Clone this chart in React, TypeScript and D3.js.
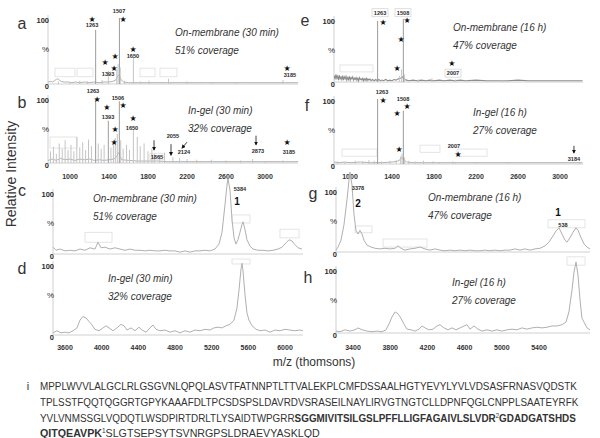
import React, { useLayoutEffect, useRef } from "react";
import * as d3 from "d3";

type Pt = [number, number];
type Lbl = [number, number, string];
type Arr = [number, number, number, number];
type Box = [number, number, number, number];

// ---- stick spectra, m/z vs % intensity ----
const peaksA: Pt[] = [[880, 4], [1000, 3], [1100, 5], [1180, 4], [1263, 82], [1330, 6], [1393, 20], [1480, 22], [1493, 30], [1507, 100], [1515, 25], [1560, 5], [1650, 42], [1720, 4], [1810, 5], [2010, 8], [2200, 4], [2450, 3], [2700, 3], [3185, 6]];
const noiseA: Pt[] = [[775, 3], [800, 4], [820, 3], [840, 5], [860, 7], [875, 8], [890, 6], [910, 4], [940, 3], [980, 3], [1020, 2], [1060, 3], [1100, 2], [1150, 3], [1200, 2], [1250, 3], [1300, 2], [1350, 3], [1400, 3], [1440, 4], [1470, 6], [1490, 12], [1500, 14], [1510, 12], [1525, 6], [1550, 3], [1600, 2], [1700, 2], [1800, 2], [1900, 2], [2000, 2], [2100, 2], [2200, 2], [2400, 2], [2600, 2], [2800, 2], [3000, 2], [3200, 2], [3340, 2]];

const peaksB: Pt[] = [[800, 18], [830, 25], [860, 14], [890, 30], [920, 22], [950, 35], [980, 20], [1010, 28], [1040, 18], [1070, 40], [1100, 24], [1130, 32], [1160, 20], [1190, 36], [1220, 26], [1263, 98], [1290, 30], [1320, 22], [1350, 28], [1393, 65], [1420, 24], [1445, 30], [1465, 38], [1485, 45], [1506, 95], [1520, 35], [1545, 22], [1580, 28], [1610, 20], [1650, 52], [1690, 40], [1720, 26], [1760, 30], [1800, 18], [1840, 22], [1865, 14], [1920, 12], [1970, 16], [2055, 9], [2124, 8], [2200, 6], [2300, 5], [2450, 5], [2600, 4], [2750, 4], [2873, 6], [3000, 3], [3185, 4]];
const noiseB: Pt[] = [[775, 4], [820, 6], [860, 4], [900, 7], [950, 5], [1000, 6], [1050, 4], [1100, 6], [1150, 5], [1200, 6], [1250, 4], [1300, 5], [1350, 4], [1400, 5], [1450, 6], [1480, 10], [1495, 16], [1506, 14], [1515, 10], [1530, 5], [1600, 4], [1700, 3], [1800, 3], [1900, 3], [2000, 2], [2200, 2], [2400, 2], [2600, 2], [2800, 2], [3000, 2], [3200, 2], [3340, 2]];

const peaksE: Pt[] = [[1263, 97], [1470, 10], [1490, 20], [1508, 100], [1520, 12], [1650, 4], [1780, 6], [2007, 4], [2450, 3]];
const noiseE: Pt[] = [[850, 10], [858, 4], [866, 12], [874, 6], [882, 9], [890, 3], [898, 11], [906, 5], [914, 8], [922, 4], [930, 10], [938, 3], [946, 8], [954, 5], [962, 9], [970, 3], [978, 7], [986, 4], [994, 9], [1002, 3], [1010, 7], [1018, 5], [1026, 8], [1034, 3], [1042, 6], [1050, 4], [1058, 7], [1066, 3], [1074, 6], [1082, 2], [1090, 7], [1098, 4], [1106, 5], [1114, 3], [1122, 6], [1130, 2], [1138, 5], [1146, 3], [1154, 6], [1162, 2], [1170, 5], [1180, 3], [1190, 5], [1200, 2], [1215, 4], [1230, 2], [1245, 4], [1260, 2], [1275, 4], [1290, 2], [1305, 3], [1320, 2], [1340, 4], [1360, 2], [1380, 3], [1400, 2], [1420, 4], [1440, 3], [1460, 5], [1480, 6], [1500, 8], [1520, 4], [1540, 3], [1560, 2], [1600, 3], [1640, 2], [1680, 3], [1720, 2], [1760, 3], [1800, 2], [1850, 3], [1900, 2], [1950, 3], [2000, 2], [2050, 3], [2100, 2], [2200, 3], [2300, 2], [2400, 2], [2500, 2], [2600, 3], [2700, 2], [2800, 2], [2900, 2], [3000, 2], [3100, 2], [3215, 2]];

const peaksF: Pt[] = [[880, 4], [950, 3], [1050, 5], [1120, 4], [1180, 6], [1230, 5], [1263, 100], [1300, 4], [1380, 5], [1440, 6], [1480, 12], [1495, 16], [1508, 82], [1520, 10], [1560, 5], [1620, 4], [1700, 5], [1790, 4], [1850, 3], [1980, 4], [2007, 3], [2200, 2], [2500, 2], [3184, 2]];
const noiseF: Pt[] = [[848, 3], [900, 2], [950, 3], [1000, 2], [1100, 3], [1200, 2], [1300, 2], [1400, 3], [1450, 4], [1480, 7], [1500, 10], [1515, 6], [1540, 3], [1600, 2], [1800, 2], [2000, 2], [2400, 2], [2800, 2], [3215, 2]];

// ---- profile spectra ----
const profileC: Pt[] = [[3469, 11], [3502, 6], [3545, 8], [3600, 5], [3655, 6], [3709, 5], [3764, 8], [3818, 6], [3873, 10], [3927, 8], [3960, 19], [3993, 10], [4036, 11], [4091, 8], [4145, 10], [4200, 8], [4255, 6], [4309, 8], [4364, 6], [4418, 6], [4473, 5], [4527, 6], [4582, 5], [4636, 5], [4691, 6], [4745, 5], [4800, 5], [4855, 3], [4909, 5], [4964, 3], [5018, 5], [5073, 5], [5127, 6], [5182, 5], [5236, 8], [5280, 16], [5313, 35], [5345, 79], [5367, 111], [5378, 122], [5400, 103], [5422, 55], [5444, 26], [5465, 16], [5487, 23], [5509, 35], [5531, 48], [5542, 52], [5564, 39], [5585, 23], [5618, 13], [5651, 8], [5705, 6], [5760, 6], [5815, 5], [5869, 6], [5924, 8], [5967, 11], [6011, 18], [6044, 23], [6076, 21], [6109, 15], [6142, 10], [6185, 8]];
const profileD: Pt[] = [[3469, 3], [3513, 6], [3556, 3], [3600, 4], [3644, 3], [3687, 6], [3731, 10], [3764, 21], [3796, 26], [3829, 24], [3862, 19], [3895, 14], [3927, 8], [3971, 6], [4015, 10], [4047, 13], [4080, 10], [4124, 6], [4167, 10], [4211, 15], [4244, 13], [4276, 7], [4320, 10], [4364, 6], [4407, 11], [4440, 7], [4484, 4], [4527, 10], [4560, 14], [4593, 8], [4636, 6], [4691, 7], [4745, 4], [4800, 6], [4855, 3], [4909, 6], [4964, 4], [5018, 7], [5073, 6], [5127, 8], [5182, 7], [5225, 10], [5269, 11], [5313, 10], [5356, 13], [5400, 15], [5444, 21], [5476, 38], [5498, 63], [5520, 93], [5531, 101], [5542, 90], [5564, 56], [5585, 31], [5607, 21], [5640, 13], [5684, 8], [5727, 6], [5782, 7], [5836, 4], [5891, 7], [5945, 6], [6000, 8], [6055, 7], [6109, 6], [6164, 7], [6196, 6]];
const profileG: Pt[] = [[3217, 3], [3239, 8], [3271, 19], [3303, 44], [3335, 84], [3357, 116], [3368, 129], [3389, 108], [3411, 60], [3432, 35], [3454, 29], [3475, 35], [3497, 29], [3518, 19], [3551, 11], [3594, 8], [3637, 6], [3690, 5], [3744, 6], [3798, 5], [3852, 6], [3884, 10], [3916, 6], [3959, 3], [4013, 5], [4067, 6], [4120, 8], [4174, 5], [4228, 3], [4282, 5], [4335, 3], [4389, 2], [4443, 3], [4497, 2], [4551, 3], [4604, 2], [4658, 3], [4712, 2], [4766, 2], [4819, 3], [4873, 2], [4927, 3], [4981, 2], [5034, 3], [5088, 3], [5142, 5], [5196, 3], [5249, 5], [5303, 3], [5357, 5], [5411, 6], [5465, 10], [5508, 16], [5551, 26], [5583, 34], [5615, 39], [5647, 29], [5680, 19], [5701, 16], [5733, 23], [5766, 32], [5798, 39], [5820, 35], [5852, 23], [5884, 13], [5916, 8], [5948, 5]];
const profileH: Pt[] = [[3217, 3], [3260, 2], [3314, 5], [3368, 3], [3422, 5], [3454, 8], [3497, 5], [3551, 3], [3604, 2], [3658, 3], [3712, 2], [3755, 5], [3787, 14], [3819, 25], [3852, 33], [3884, 30], [3916, 23], [3948, 14], [3981, 6], [4024, 5], [4067, 3], [4110, 6], [4142, 11], [4174, 8], [4217, 5], [4260, 6], [4303, 11], [4335, 13], [4378, 8], [4422, 5], [4465, 8], [4508, 5], [4551, 8], [4594, 11], [4626, 13], [4658, 6], [4701, 11], [4744, 6], [4787, 3], [4841, 5], [4895, 3], [4948, 5], [5002, 3], [5056, 5], [5110, 6], [5163, 5], [5217, 8], [5271, 6], [5325, 8], [5378, 9], [5432, 8], [5486, 9], [5540, 11], [5594, 11], [5647, 13], [5690, 17], [5722, 33], [5755, 67], [5776, 95], [5798, 111], [5819, 91], [5841, 52], [5862, 23], [5884, 17], [5916, 8], [5948, 5]];

// ---- axis ticks ----
const ticksLow = [1000, 1400, 1800, 2200, 2600, 3000];
const ticksD = [3600, 4000, 4400, 4800, 5200, 5600, 6000];
const ticksH = [3400, 3800, 4200, 4600, 5000, 5400];

// ---- annotations (m/z, % level) ----
const starsA: Pt[] = [[1226, 98], [1544, 98], [1646, 52], [1359, 33], [1462, 41], [1451, 24], [3226, 24]];
const labelsA: Lbl[] = [[1226, 89, "1263"], [1503, 111, "1507"], [1646, 42, "1650"], [1390, 15, "1393"], [3256, 14, "3185"]];
const starsB: Pt[] = [[1277, 97], [1379, 85], [1462, 52], [1451, 32], [1544, 89], [1646, 69], [3226, 32]];
const labelsB: Lbl[] = [[1236, 111, "1263"], [1390, 71, "1393"], [1492, 100, "1506"], [1636, 54, "1650"], [1892, 9, "1865"], [2056, 42, "2055"], [2169, 17, "2124"], [2928, 18, "2873"], [3246, 17, "3185"]];
const arrowsB: Arr[] = [[1862, 35, 1862, 20], [2036, 29, 2036, 12], [2200, 32, 2149, 23], [2908, 42, 2908, 28]];
const starsE: Pt[] = [[1314, 94], [1543, 97], [1486, 68], [1448, 21], [1971, 30]];
const boxedE: Lbl[] = [[1286, 110, "1263"], [1505, 110, "1508"], [1981, 14, "2007"]];
const starsF: Pt[] = [[1314, 97], [1448, 78], [1543, 88], [1467, 23], [2029, 15]];
const labelsF: Lbl[] = [[1305, 111, "1263"], [1505, 100, "1508"], [1990, 28, "2007"], [3133, 8, "3184"]];
const arrowsF: Arr[] = [[3133, 28, 3133, 17]];
const labelsC: Lbl[] = [[5509, 105, "5384"]];
const bigC: Lbl[] = [[5476, 84, "1"]];
const labelsG: Lbl[] = [[3454, 103, "3378"], [5658, 44, "538"]];
const bigG: Lbl[] = [[3454, 79, "2"], [5604, 63, "1"]];

// faint annotation frames left in the original
const boxesA: Box[] = [[846, 1051, 24, 11], [1072, 1236, 24, 11], [1718, 1872, 24, 11], [1923, 2097, 24, 11]];
const boxesB: Box[] = [[795, 1072, 40, 23], [1820, 1954, 15, 5]];
const boxesE: Box[] = [[905, 1219, 27, 16]];
const boxesF: Box[] = [[924, 1257, 23, 12], [1667, 1857, 29, 18], [2019, 2305, 23, 12]];
const boxesC: Box[] = [[3818, 4113, 35, 19], [5422, 5618, 63, 50], [5945, 6153, 40, 26]];
const boxesD: Box[] = [[5422, 5618, 107, 100]];
const boxesG: Box[] = [[3422, 3604, 42, 31], [3723, 4196, 21, 8], [5497, 5895, 52, 39]];
const boxesH: Box[] = [[5701, 5895, 119, 106]];

// ---- sequence (panel i) ----
type Seg = [string, "n" | "b" | "s"];
const seqLines: Seg[][] = [
  [["MPPLWVVLALGCLRLGSGVNLQPQLASVTFATNNPTLTTVALEKPLCMFDSSAALHGTYEVYLYVLVDSASFRNASVQDSTK", "n"]],
  [["TPLSSTFQQTQGGRTGPYKAAAFDLTPCSDSPSLDAVRDVSRASEILNAYLIRVGTNGTCLLDPNFQGLCNPPLSAATEYRFK", "n"]],
  [["YVLVNMSSGLVQDQTLWSDPIRTDRLTLYSAIDTWPGRR", "n"], ["SGGMIVITSILGSLPFFLLIGFAGAIVLSLVDR", "b"], ["2", "s"], ["GDADGATSHDS", "b"]],
  [["QITQEAVPK", "b"], ["1", "s"], ["SLGTSEPSYTSVNRGPSLDRAEVYASKLQD", "n"]],
];

const FONT = "'Liberation Sans', Arial, sans-serif";
const INK = "#2b2b2b";
const TRACE = "#a8a8a8";

type PanelProps = {
  x: d3.ScaleLinear<number, number>;
  y0: number; y100: number; left: number; right: number;
  sticks?: Pt[]; noise?: Pt[]; profile?: Pt[]; noiseDark?: boolean;
  stars?: Pt[]; labels?: Lbl[]; boxed?: Lbl[]; arrows?: Arr[]; boxes?: Box[]; big?: Lbl[];
  ticks?: number[]; tickY?: number;
  letter: string; lx: number; ly: number;
  title: string; cover: string; tx: number; ty: number;
};

function Panel(p: PanelProps) {
  const y = d3.scaleLinear().domain([0, 100]).range([p.y0, p.y100]);
  const line = d3.line<Pt>().x(d => p.x(d[0])).y(d => y(d[1]));
  return (
    <g>
      {(p.boxes || []).map((b, i) => (
        <rect key={"bx" + i} x={p.x(b[0])} y={y(b[2])} width={p.x(b[1]) - p.x(b[0])} height={y(b[3]) - y(b[2])}
          fill="none" stroke="#dedede" strokeWidth={0.8} />
      ))}
      <line x1={p.left} x2={p.left} y1={p.y100 - 3} y2={p.y0} stroke="#cfcfcf" />
      <line x1={p.left} x2={p.right} y1={p.y0} y2={p.y0} stroke="#d0d0d0" />
      {p.noise && <path d={line(p.noise) || ""} fill="none" stroke={p.noiseDark ? "#8e8e8e" : TRACE} strokeWidth={p.noiseDark ? 1.1 : 0.9} />}
      {(p.sticks || []).map((s, i) => (
        <line key={"s" + i} x1={p.x(s[0])} x2={p.x(s[0])} y1={p.y0} y2={y(s[1])}
          stroke={s[1] >= 60 ? "#9c9c9c" : "#c4c4c4"} strokeWidth={1} />
      ))}
      {p.profile && <path d={line(p.profile) || ""} fill="none" stroke="#b0b0b0" strokeWidth={1} />}
      {(p.stars || []).map((s, i) => (
        <text key={"st" + i} x={p.x(s[0])} y={y(s[1])} textAnchor="middle" dominantBaseline="central"
          fontSize={8} fontFamily="'DejaVu Sans', sans-serif" fill="#111">★</text>
      ))}
      {(p.labels || []).map((l, i) => (
        <text key={"l" + i} x={p.x(l[0])} y={y(l[1])} textAnchor="middle" dominantBaseline="central"
          fontSize={5.6} fontWeight="bold" fontFamily={FONT} fill={INK}>{l[2]}</text>
      ))}
      {(p.boxed || []).map((l, i) => (
        <g key={"b" + i}>
          <rect x={p.x(l[0]) - 8} y={y(l[1]) - 4} width={16} height={8} fill="white" stroke="#d6d6d6" strokeWidth={0.8} />
          <text x={p.x(l[0])} y={y(l[1])} textAnchor="middle" dominantBaseline="central"
            fontSize={5.6} fontWeight="bold" fontFamily={FONT} fill={INK}>{l[2]}</text>
        </g>
      ))}
      {(p.big || []).map((l, i) => (
        <text key={"g" + i} x={p.x(l[0])} y={y(l[1])} textAnchor="middle" dominantBaseline="central"
          fontSize={10} fontWeight="bold" fontFamily={FONT} fill="#111">{l[2]}</text>
      ))}
      {(p.arrows || []).map((a, i) => (
        <line key={"a" + i} x1={p.x(a[0])} y1={y(a[1])} x2={p.x(a[2])} y2={y(a[3])}
          stroke="#111" strokeWidth={0.8} markerEnd="url(#arrowHead)" />
      ))}
      {(p.ticks || []).map(t => (
        <text key={"t" + t} x={p.x(t)} y={p.tickY} textAnchor="middle" dominantBaseline="central"
          fontSize={7} fontWeight="bold" fontFamily={FONT} fill="#333">{t}</text>
      ))}
      <text x={p.left + 1} y={p.y100 + 2} textAnchor="end" dominantBaseline="central" fontSize={7.5} fontWeight="bold" fontFamily={FONT} fill={INK}>100</text>
      <text x={p.left + 1} y={p.y100 + 31} textAnchor="end" dominantBaseline="central" fontSize={8} fontFamily={FONT} fill={INK}>%</text>
      <text x={p.left + 1} y={p.y0 + 2} textAnchor="end" dominantBaseline="central" fontSize={7.5} fontWeight="bold" fontFamily={FONT} fill={INK}>0</text>
      <text x={p.lx} y={p.ly} textAnchor="middle" dominantBaseline="central" fontSize={16} fontFamily={FONT} fill="#333">{p.letter}</text>
      <text x={p.tx} y={p.ty} dominantBaseline="central" fontSize={10} fontStyle="italic" fontFamily={FONT} fill="#333">{p.title}</text>
      <text x={p.tx} y={p.ty + 18} dominantBaseline="central" fontSize={10} fontStyle="italic" fontFamily={FONT} fill="#333">{p.cover}</text>
    </g>
  );
}

// sequence lines are squeezed horizontally to the width they take in the figure
function Sequence() {
  const refs = useRef<(SVGTextElement | null)[]>([]);
  const seqEnds = [578, 579, 577, 320];
  const seqY = [386, 402, 418, 433];
  const seqX = 40;

  useLayoutEffect(() => {
    refs.current.forEach((el, i) => {
      if (!el) return;
      const w = el.getBBox().width;
      const k = w > 0 ? (seqEnds[i] - seqX) / w : 1;
      el.setAttribute("transform", `translate(${seqX},${seqY[i] + 4}) scale(${k},1)`);
    });
  }, []);

  return (
    <g>
      <text x={28} y={seqY[0]} textAnchor="middle" dominantBaseline="central" fontSize={11} fontFamily={FONT} fill="#333">i</text>
      {seqLines.map((segs, li) => (
        <text key={li} ref={el => { refs.current[li] = el; }} x={0} y={0}
          transform={`translate(${seqX},${seqY[li] + 4})`}
          fontSize={11.5} fontFamily={FONT} fill="#333">
          {segs.map((s, si) => s[1] === "s"
            ? <tspan key={si} fontSize={7} dy={-4}>{s[0]}</tspan>
            : <tspan key={si} fontWeight={s[1] === "b" ? "bold" : "normal"}
                dy={si > 0 && segs[si - 1][1] === "s" ? 4 : 0}>{s[0]}</tspan>)}
        </text>
      ))}
    </g>
  );
}

export default function App() {
  const abX = d3.scaleLinear().domain([1000, 3000]).range([70, 265]);
  const efX = d3.scaleLinear().domain([1000, 3000]).range([350, 560]);
  const cdX = d3.scaleLinear().domain([3600, 6000]).range([65, 285]);
  const ghX = d3.scaleLinear().domain([3400, 5400]).range([353, 539]);

  return (
    <svg width={600} height={438} style={{ position: "absolute", left: 0, top: 0, background: "white" }}>
      <defs>
        <marker id="arrowHead" viewBox="0 0 10 10" refX={8} refY={5} markerWidth={5} markerHeight={5} orient="auto">
          <path d="M0,0 L10,5 L0,10 z" fill="#111" />
        </marker>
      </defs>

      <Panel x={abX} y0={84} y100={18} left={48} right={298} sticks={peaksA} noise={noiseA}
        stars={starsA} labels={labelsA} boxes={boxesA}
        letter="a" lx={22} ly={23} title="On-membrane (30 min)" cover="51% coverage" tx={175} ty={32} />
      <Panel x={abX} y0={163} y100={98} left={48} right={298} sticks={peaksB} noise={noiseB}
        stars={starsB} labels={labelsB} arrows={arrowsB} boxes={boxesB} ticks={ticksLow} tickY={176}
        letter="b" lx={22} ly={102} title="In-gel (30 min)" cover="32% coverage" tx={188} ty={110} />
      <Panel x={cdX} y0={254} y100={192} left={53} right={303} profile={profileC}
        labels={labelsC} big={bigC} boxes={boxesC}
        letter="c" lx={22} ly={190} title="On-membrane (30 min)" cover="51% coverage" tx={93} ty={198} />
      <Panel x={cdX} y0={335} y100={264} left={53} right={303} profile={profileD} boxes={boxesD}
        ticks={ticksD} tickY={347}
        letter="d" lx={22} ly={268} title="In-gel (30 min)" cover="32% coverage" tx={108} ty={278} />

      <Panel x={efX} y0={82} y100={19} left={334} right={583} sticks={peaksE} noise={noiseE} noiseDark
        stars={starsE} boxed={boxedE} boxes={boxesE}
        letter="e" lx={305} ly={20} title="On-membrane (16 h)" cover="47% coverage" tx={453} ty={27} />
      <Panel x={efX} y0={164} y100={99} left={334} right={583} sticks={peaksF} noise={noiseF}
        stars={starsF} labels={labelsF} arrows={arrowsF} boxes={boxesF} ticks={ticksLow} tickY={176}
        letter="f" lx={307} ly={105} title="In-gel (16 h)" cover="27% coverage" tx={473} ty={112} />
      <Panel x={ghX} y0={252} y100={190} left={336} right={590} profile={profileG}
        labels={labelsG} big={bigG} boxes={boxesG}
        letter="g" lx={313} ly={193} title="On-membrane (16 h)" cover="47% coverage" tx={428} ty={197} />
      <Panel x={ghX} y0={333} y100={269} left={336} right={590} profile={profileH} boxes={boxesH}
        ticks={ticksH} tickY={347}
        letter="h" lx={308} ly={277} title="In-gel (16 h)" cover="27% coverage" tx={452} ty={282} />

      <text transform="translate(11,174) rotate(-90)" textAnchor="middle" dominantBaseline="central"
        fontSize={14} fontFamily={FONT} fill="#333">Relative Intensity</text>
      <text x={314} y={362} textAnchor="middle" dominantBaseline="central" fontSize={12} fontFamily={FONT} fill="#333">m/z (thomsons)</text>

      <Sequence />
    </svg>
  );
}
